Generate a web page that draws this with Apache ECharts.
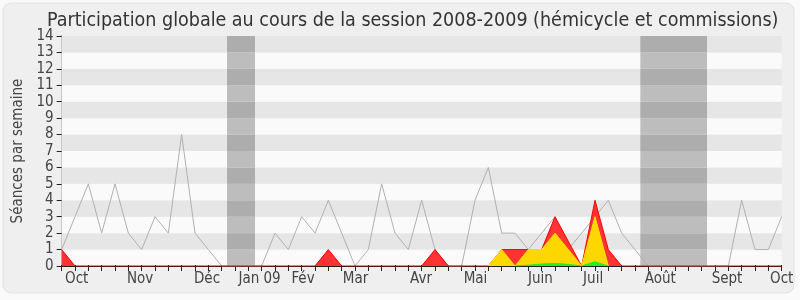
<!DOCTYPE html>
<html>
<head>
<meta charset="utf-8">
<script src="https://cdn.jsdelivr.net/npm/echarts@6/dist/echarts.min.js"></script>
<style>
html,body{margin:0;padding:0;background:#fafafa;}
#chart{width:800px;height:300px;}
</style>
</head>
<body>
<div id="chart"></div>
<script>
// Week indices (0 = first week of Oct 2008, 54 = first week of Oct 2009)
var weekCount = 55;
// Gray line: total sessions per week
var totalSeances = [1,3,5,2,5,2,1,3,2,8,2,1,0,0,0,0,2,1,3,2,4,2,0,1,5,2,1,4,1,0,0,4,6,2,2,1,2,3,1,2,3,4,2,1,0,0,0,0,0,0,0,4,1,1,3];
// Red area
var serieRouge = [1,0,0,0,0,0,0,0,0,0,0,0,0,0,0,0,0,0,0,0,1,0,0,0,0,0,0,0,1,0,0,0,0,1,1,1,1,3,1.5,0,4,1,0,0,0,0,0,0,0,0,0,0,0,0,0];
// Yellow area
var serieJaune = [null,null,null,null,null,null,null,null,null,null,null,null,null,null,null,null,null,null,null,null,null,null,null,null,null,null,null,null,null,null,null,null,0,1,0,1,1,2,1,0,3,0,null,null,null,null,null,null,null,null,null,null,null,null,null];
// Green area
var serieVerte = [null,null,null,null,null,null,null,null,null,null,null,null,null,null,null,null,null,null,null,null,null,null,null,null,null,null,null,null,null,null,null,null,null,null,0,0.05,0.12,0.16,0.1,0,0.26,0,null,null,null,null,null,null,null,null,null,null,null,null,null];
// Month tick labels and their positions (in weeks)
var monthLabels = ['Oct','Nov','Déc','Jan 09','Fév','Mar','Avr','Mai','Juin','Juil','Août','Sept','Oct'];
var monthPos = [1.13,5.88,10.9,14.84,18.1,22.04,26.95,31.04,35.9,39.86,44.9,49.9,54.0];
// Vacation periods (in weeks)
var vacances = [[12.4,14.5],[43.4,48.4]];
var yMax = 14;

function pairs(arr){ var out=[]; for(var i=0;i<arr.length;i++){ out.push([i, arr[i]]); } return out; }
var weekTicks=[]; for(var i=0;i<weekCount;i++) weekTicks.push(i);

var vacAreas=[];
vacances.forEach(function(v){
  for(var r=0;r<yMax;r++){
    vacAreas.push([{xAxis:v[0], yAxis:r, itemStyle:{color:(r%2===1)?'#adadad':'#bdbdbd'}},{xAxis:v[1], yAxis:r+1}]);
  }
});

var fontF = "'DejaVu Sans Condensed','DejaVu Sans',sans-serif";
var chart = echarts.init(document.getElementById('chart'), null, {renderer:'canvas'});
chart.setOption({
  animation:false,
  backgroundColor:'#fafafa',
  graphic:[{type:'rect', z:-10, shape:{x:3,y:3,width:791,height:290,r:8}, style:{fill:'#efefef', stroke:'#e2e2e2', lineWidth:1}}],
  title:{text:'Participation globale au cours de la session 2008-2009 (hémicycle et commissions)', left:42, top:6,
    textStyle:{fontFamily:fontF, fontSize:19.5, fontWeight:'normal', color:'#333'}},
  grid:{left:61.67, right:18.33, top:36, bottom:34},
  xAxis:[{type:'value', min:0, max:weekCount-1, interval:1, position:'bottom',
    axisLine:{show:true, lineStyle:{color:'#222', width:1}},
    axisTick:{show:true, length:5, customValues:weekTicks, lineStyle:{color:'#222'}},
    axisLabel:{customValues:monthPos, margin:6, fontFamily:fontF, fontSize:15, color:'#444',
      formatter:function(v){ var k=monthPos.indexOf(v); return k>=0?monthLabels[k]:''; }},
    splitLine:{show:false}},
   {type:'value', min:0, max:weekCount-1, interval:1, position:'top',
    axisLine:{show:false}, axisTick:{show:true, length:1, customValues:weekTicks, lineStyle:{color:'#000'}},
    axisLabel:{show:false}, splitLine:{show:false}}],
  yAxis:[{type:'value', min:0, max:yMax, interval:1,
    name:'Séances par semaine', nameLocation:'middle', nameGap:35,
    nameTextStyle:{fontFamily:fontF, fontSize:15, color:'#444'},
    axisLine:{show:true, lineStyle:{color:'#222'}},
    axisTick:{show:true, length:5, lineStyle:{color:'#222'}},
    axisLabel:{fontFamily:fontF, fontSize:15, color:'#444', margin:8},
    splitLine:{show:false},
    splitArea:{show:true, areaStyle:{color:['#fafafa','#e6e6e6']}}},
   {type:'value', min:0, max:yMax, interval:1, position:'right',
    axisLine:{show:true, lineStyle:{color:'#c8c8c8'}}, axisTick:{show:false}, axisLabel:{show:false}, splitLine:{show:false}}],
  series:[
    {type:'line', name:'total', data:pairs(totalSeances), symbol:'none', z:2,
     lineStyle:{color:'#b0b0b0', width:1},
     markArea:{silent:true, data:vacAreas}},
    {type:'line', name:'rouge', data:pairs(serieRouge), symbol:'none', z:3,
     lineStyle:{color:'#ff0000', width:1}, areaStyle:{color:'#ff3333', opacity:1}},
    {type:'line', name:'jaune', data:pairs(serieJaune), symbol:'none', z:4,
     lineStyle:{color:'#ffe000', width:1}, areaStyle:{color:'#ffd700', opacity:1}},
    {type:'line', name:'verte', data:pairs(serieVerte), symbol:'none', z:5,
     lineStyle:{color:'#22ee22', width:1}, areaStyle:{color:'#22ee22', opacity:1}}
  ]
});
</script>
</body>
</html>
